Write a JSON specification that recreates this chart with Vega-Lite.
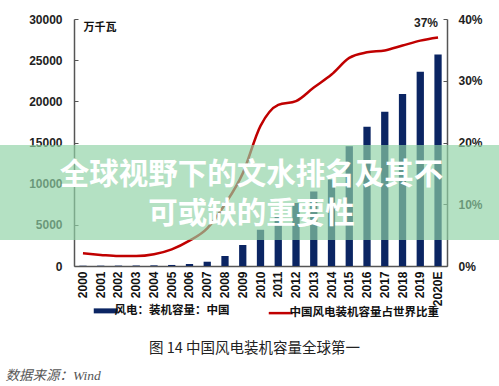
{
  "$schema": "https://vega.github.io/schema/vega-lite/v6.json",
  "width": 373,
  "height": 247,
  "autosize": {"type": "none"},
  "padding": {"left": 74, "top": 19, "right": 52, "bottom": 120},
  "background": "white",
  "config": {"font": "Liberation Sans, Noto Sans CJK SC", "view": {"stroke": null}},
  "data": {"values": [
    {"year": "2000", "cap": 34, "share": 0.0205},
    {"year": "2001", "cap": 40, "share": 0.018},
    {"year": "2002", "cap": 47, "share": 0.016},
    {"year": "2003", "cap": 57, "share": 0.016},
    {"year": "2004", "cap": 76, "share": 0.019},
    {"year": "2005", "cap": 126, "share": 0.027},
    {"year": "2006", "cap": 240, "share": 0.041},
    {"year": "2007", "cap": 520, "share": 0.061},
    {"year": "2008", "cap": 1215, "share": 0.1},
    {"year": "2009", "cap": 2550, "share": 0.15},
    {"year": "2010", "cap": 4400, "share": 0.227},
    {"year": "2011", "cap": 6100, "share": 0.261},
    {"year": "2012", "cap": 7650, "share": 0.267},
    {"year": "2013", "cap": 9050, "share": 0.289},
    {"year": "2014", "cap": 10500, "share": 0.31},
    {"year": "2015", "cap": 14550, "share": 0.337},
    {"year": "2016", "cap": 16900, "share": 0.346},
    {"year": "2017", "cap": 18750, "share": 0.349},
    {"year": "2018", "cap": 20900, "share": 0.357},
    {"year": "2019", "cap": 23600, "share": 0.365},
    {"year": "2020E", "cap": 25700, "share": 0.37}
  ]},
  "layer": [
    {
      "mark": {"type": "bar"},
      "encoding": {
        "x": {"field": "year", "type": "nominal", "sort": null,
          "scale": {"paddingInner": 0.59, "paddingOuter": 0.3},
          "axis": {"title": "数据来源：Wind", "titleX": -69, "titleY": 109, "titleAlign": "left", "titleAnchor": "start", "titleBaseline": "middle", "titleFont": "Liberation Serif, Noto Sans CJK SC", "titleFontStyle": "italic", "titleFontWeight": "normal", "titleFontSize": 13.5, "titleColor": "#555",
            "labelAngle": -90, "labelFontWeight": "bold", "labelFontSize": 12, "labelColor": "#111", "labelPadding": 5, "ticks": false, "domainColor": "#555", "domainWidth": 1.5}},
        "y": {"field": "cap", "type": "quantitative", "scale": {"domain": [0, 30000]},
          "axis": {"title": "万千瓦", "titleAngle": 0, "titleX": 9, "titleY": 8, "titleAlign": "left", "titleBaseline": "middle", "titleFont": "Noto Sans CJK SC", "titleFontSize": 11, "titleFontWeight": "bold", "titleColor": "#111",
            "values": [0, 5000, 10000, 15000, 20000, 25000, 30000], "format": "d", "grid": false, "labelFontSize": 12, "labelFontWeight": "bold", "labelColor": "#222", "tickSize": -4, "tickColor": "#555", "labelPadding": 16, "domainColor": "#555", "domainWidth": 1.5}},
        "color": {"datum": "风电：装机容量：中国", "type": "nominal",
          "scale": {"domain": ["风电：装机容量：中国", "中国风电装机容量占世界比重"], "range": ["#0b2563", "#c00000"]},
          "legend": {"title": null, "orient": "none", "legendX": 26, "legendY": 286, "direction": "horizontal", "symbolType": "stroke", "symbolSize": 576, "labelFont": "Noto Sans CJK SC", "labelFontSize": 11.5, "labelFontWeight": "bold", "labelColor": "#111", "labelOffset": 3, "columnPadding": 33,
            "encode": {"symbols": {"update": {"stroke": {"signal": "scale('color', datum.value)"}, "strokeWidth": {"signal": "datum.value === '风电：装机容量：中国' ? 5 : 2.5"}}}}}
        }
      }
    },
    {
      "layer": [
        {
          "mark": {"type": "line", "interpolate": "monotone", "strokeWidth": 2.5},
          "encoding": {
            "x": {"field": "year", "type": "nominal", "sort": null},
            "y": {"field": "share", "type": "quantitative", "scale": {"domain": [0, 0.4]},
              "axis": {"orient": "right", "title": "图 14  中国风电装机容量全球第一", "titleAngle": 0, "titleX": -193, "titleY": 329, "titleAlign": "center", "titleBaseline": "middle", "titleFont": "Noto Sans CJK SC", "titleFontSize": 14.5, "titleFontWeight": "normal", "titleColor": "#222",
                "format": ".0%", "values": [0, 0.05, 0.1, 0.15, 0.2, 0.25, 0.3, 0.35, 0.4], "grid": false, "labelFontSize": 12, "labelFontWeight": "bold", "labelColor": "#222", "tickSize": -4, "tickColor": "#555", "labelPadding": 15, "domainColor": "#555", "domainWidth": 1.5}},
            "color": {"datum": "中国风电装机容量占世界比重", "type": "nominal"}
          }
        },
        {
          "transform": [{"filter": "datum.year === '2020E'"}],
          "mark": {"type": "text", "align": "right", "baseline": "middle", "dy": -15, "fontSize": 12, "fontWeight": "bold", "color": "#222"},
          "encoding": {
            "x": {"field": "year", "type": "nominal", "sort": null},
            "y": {"field": "share", "type": "quantitative"},
            "text": {"field": "share", "type": "quantitative", "format": ".0%"}
          }
        }
      ]
    },
    {
      "data": {"values": [{"banner": "全球视野下的文水排名及其不可或缺的重要性"}]},
      "layer": [
        {
          "mark": {"type": "rect", "color": "#8fd2a6", "opacity": 0.67},
          "encoding": {
            "x": {"value": -74},
            "x2": {"value": 425},
            "y": {"datum": 14700, "type": "quantitative", "scale": {"domain": [0, 30000]}, "axis": null},
            "y2": {"datum": 3160}
          }
        },
        {
          "mark": {"type": "text", "text": ["全球视野下的文水排名及其不", "可或缺的重要性"], "font": "Noto Sans CJK SC", "fontSize": 29.5, "fontWeight": "bold", "color": "white", "align": "center", "baseline": "middle", "lineHeight": 39, "dx": -9},
          "encoding": {
            "y": {"datum": 11100, "type": "quantitative"}
          }
        }
      ]
    }
  ],
  "resolve": {"scale": {"y": "independent"}}
}
